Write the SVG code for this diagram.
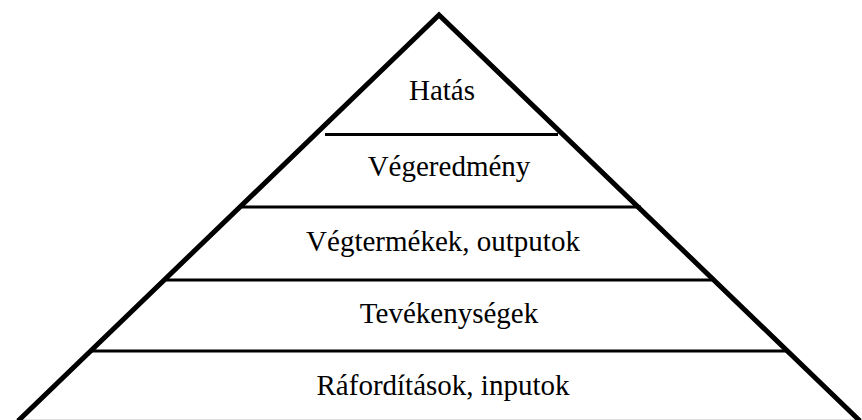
<svg xmlns="http://www.w3.org/2000/svg" width="862" height="420" viewBox="0 0 862 420">
<style>
.side{fill:none;stroke:#000;stroke-width:5;stroke-linejoin:miter}
.div{stroke:#000;stroke-width:3}
.lbl{font-family:"Liberation Serif","Times New Roman",serif;font-size:29px;fill:#000;text-anchor:middle}
</style>
<rect width="862" height="420" fill="#fff"/>
<g id="pyramid">
<line x1="18" y1="419.5" x2="860" y2="419.5" stroke="#ddd" stroke-width="1"/>
<polyline class="side" points="18,421 439,15 860,421"/>
</g>
<g id="connectors">
<line class="div" x1="325" y1="134.5" x2="558" y2="134.5"/>
<line class="div" x1="239" y1="207" x2="641" y2="207"/>
<line class="div" x1="166" y1="280" x2="714" y2="280"/>
<line class="div" x1="92" y1="351" x2="789" y2="351"/>
</g>
<g id="n1"><text class="lbl" x="442" y="100">Hatás</text></g>
<g id="n2"><text class="lbl" x="449" y="176">Végeredmény</text></g>
<g id="n3"><text class="lbl" x="443" y="251">Végtermékek, outputok</text></g>
<g id="n4"><text class="lbl" x="449" y="323">Tevékenységek</text></g>
<g id="n5"><text class="lbl" x="443" y="395">Ráfordítások, inputok</text></g>
</svg>
